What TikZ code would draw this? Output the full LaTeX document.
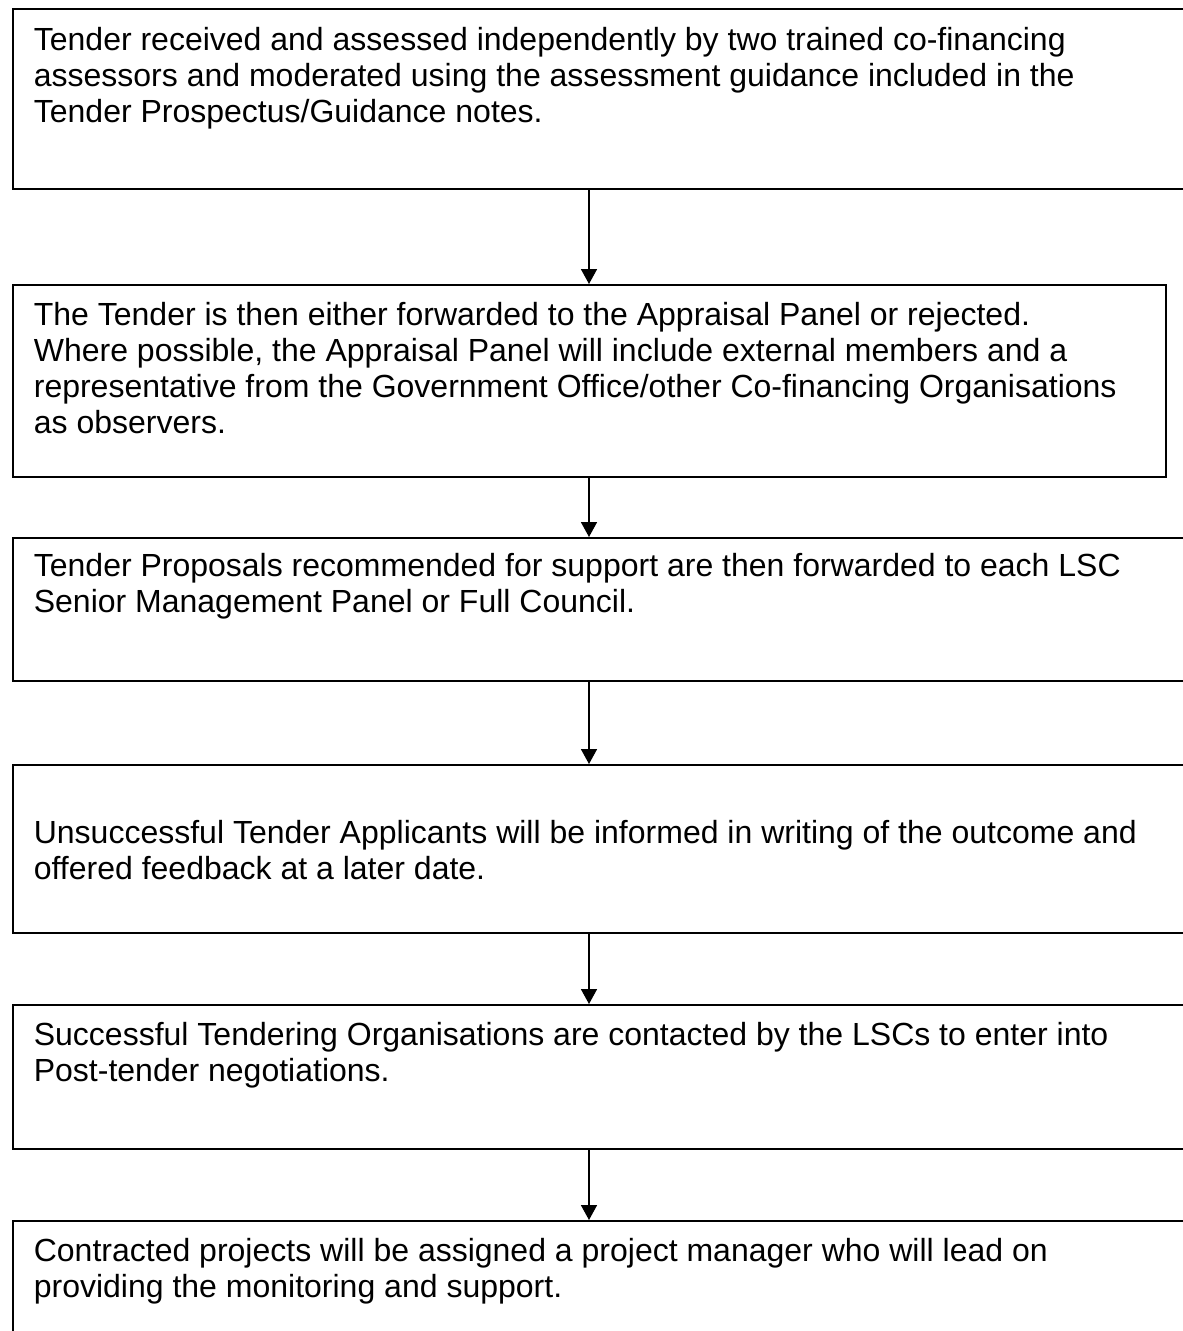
\documentclass[tikz,border=0pt]{standalone}
\usepackage{fontspec}
\setmainfont{Liberation Sans}
\usetikzlibrary{arrows.meta}

\tikzset{
  stage/.style={draw, rectangle, line width=1.2pt, anchor=north west, inner sep=0pt},
  blurb/.style={anchor=base west, align=left, inner sep=0pt,
    font=\fontsize{22.76pt}{25.6pt}\selectfont}
}

\begin{document}
\begin{tikzpicture}[x=0.025cm, y=-0.025cm, line width=1.2pt]
\clip (0,0) rectangle (1183,1331);
\fill[white] (0,0) rectangle (1183,1331);
\coordinate (M) at (589,0);

  \node[stage, minimum width=29.575cm, minimum height=4.5cm]   (A) at (12,8)    {};
  \node[stage, minimum width=28.825cm, minimum height=4.8cm]   (B) at (12,284)  {};
  \node[stage, minimum width=29.575cm, minimum height=3.575cm] (C) at (12,537)  {};
  \node[stage, minimum width=29.575cm, minimum height=4.2cm]   (D) at (12,764)  {};
  \node[stage, minimum width=29.575cm, minimum height=3.6cm]   (E) at (12,1004) {};
  \node[stage, minimum width=29.575cm, minimum height=4.5cm]   (F) at (12,1220) {};

  % base = last line
  \node[blurb] (a) at (33,122)  {Tender received and assessed independently by two trained co-financing\\assessors and moderated using the assessment guidance included in the\\Tender Prospectus/Guidance notes.};
  \node[blurb] (b) at (33,433)  {The Tender is then either forwarded to the Appraisal Panel or rejected.\\Where possible, the Appraisal Panel will include external members and a\\representative from the Government Office/other Co-financing Organisations\\as observers.};
  \node[blurb] (c) at (33,612)  {Tender Proposals recommended for support are then forwarded to each LSC\\Senior Management Panel or Full Council.};
  \node[blurb] (d) at (33,879)  {Unsuccessful Tender Applicants will be informed in writing of the outcome and\\offered feedback at a later date.};
  \node[blurb] (e) at (33,1081) {Successful Tendering Organisations are contacted by the LSCs to enter into\\Post-tender negotiations.};
  \node[blurb] (f) at (33,1297) {Contracted projects will be assigned a project manager who will lead on\\providing the monitoring and support.};

  \path[-{Triangle[length=0.375cm, width=0.4cm]}]
        (A.south -| M) edge (B.north -| M)
        (B.south -| M) edge (C.north -| M)
        (C.south -| M) edge (D.north -| M)
        (D.south -| M) edge (E.north -| M)
        (E.south -| M) edge (F.north -| M);

\end{tikzpicture}
\end{document}
